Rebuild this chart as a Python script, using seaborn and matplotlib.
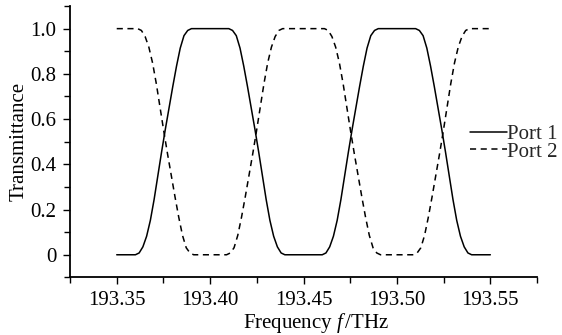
import matplotlib
matplotlib.use("Agg")
import matplotlib.pyplot as plt
import seaborn as sns
import pandas as pd
from matplotlib.ticker import MultipleLocator, FixedLocator, FixedFormatter

# frequencies (THz) and transmittance
port1_freq = [
    193.350,
    193.360, 193.362, 193.364, 193.366, 193.368, 193.370, 193.372, 193.374,
    193.376, 193.378, 193.380, 193.382, 193.384, 193.386, 193.388, 193.390,
    193.410, 193.412, 193.414, 193.416, 193.418, 193.420, 193.422, 193.424,
    193.426, 193.428, 193.430, 193.432, 193.434, 193.436, 193.438, 193.440,
    193.460, 193.462, 193.464, 193.466, 193.468, 193.470, 193.472, 193.474,
    193.476, 193.478, 193.480, 193.482, 193.484, 193.486, 193.488, 193.490,
    193.510, 193.512, 193.514, 193.516, 193.518, 193.520, 193.522, 193.524,
    193.526, 193.528, 193.530, 193.532, 193.534, 193.536, 193.538, 193.540,
    193.550,
]
port1_vals = [
    0.000,
    0.000, 0.008, 0.035, 0.082, 0.152, 0.244, 0.349, 0.454,
    0.554, 0.649, 0.744, 0.834, 0.914, 0.969, 0.992, 1.000,
    1.000, 0.992, 0.969, 0.914, 0.834, 0.744, 0.649, 0.554,
    0.454, 0.349, 0.244, 0.152, 0.082, 0.035, 0.008, 0.000,
    0.000, 0.008, 0.035, 0.082, 0.152, 0.244, 0.349, 0.454,
    0.554, 0.649, 0.744, 0.834, 0.914, 0.969, 0.992, 1.000,
    1.000, 0.992, 0.969, 0.914, 0.834, 0.744, 0.649, 0.554,
    0.454, 0.349, 0.244, 0.152, 0.082, 0.035, 0.008, 0.000,
    0.000,
]

port2_freq = [
    193.3500,
    193.3612, 193.3632, 193.3652, 193.3672, 193.3692, 193.3712, 193.3732, 193.3752,
    193.3772, 193.3792, 193.3812, 193.3832, 193.3852, 193.3872, 193.3892, 193.3912,
    193.4088, 193.4108, 193.4128, 193.4148, 193.4168, 193.4188, 193.4208, 193.4228,
    193.4248, 193.4268, 193.4288, 193.4308, 193.4328, 193.4348, 193.4368, 193.4388,
    193.4612, 193.4632, 193.4652, 193.4672, 193.4692, 193.4712, 193.4732, 193.4752,
    193.4772, 193.4792, 193.4812, 193.4832, 193.4852, 193.4872, 193.4892, 193.4912,
    193.5088, 193.5108, 193.5128, 193.5148, 193.5168, 193.5188, 193.5208, 193.5228,
    193.5248, 193.5268, 193.5288, 193.5308, 193.5328, 193.5348, 193.5368, 193.5388,
    193.5500,
]
port2_vals = [
    1.000,
    1.000, 0.992, 0.965, 0.918, 0.848, 0.756, 0.651, 0.546,
    0.446, 0.351, 0.256, 0.166, 0.086, 0.031, 0.008, 0.000,
    0.000, 0.008, 0.031, 0.086, 0.166, 0.256, 0.351, 0.446,
    0.546, 0.651, 0.756, 0.848, 0.918, 0.965, 0.992, 1.000,
    1.000, 0.992, 0.965, 0.918, 0.848, 0.756, 0.651, 0.546,
    0.446, 0.351, 0.256, 0.166, 0.086, 0.031, 0.008, 0.000,
    0.000, 0.008, 0.031, 0.086, 0.166, 0.256, 0.351, 0.446,
    0.546, 0.651, 0.756, 0.848, 0.918, 0.965, 0.992, 1.000,
    1.000,
]

x_ticks = [193.35, 193.40, 193.45, 193.50, 193.55]
x_labels = ["193.35", "193.40", "193.45", "193.50", "193.55"]
y_ticks = [0, 0.2, 0.4, 0.6, 0.8, 1.0]
y_labels = ["0", "0.2", "0.4", "0.6", "0.8", "1.0"]

df = pd.concat([
    pd.DataFrame({"freq": port1_freq, "T": port1_vals, "Port": "Port 1"}),
    pd.DataFrame({"freq": port2_freq, "T": port2_vals, "Port": "Port 2"}),
])

sns.set_theme(style="ticks")
plt.rcParams["font.family"] = ["Liberation Serif", "DejaVu Serif"]
plt.rcParams["mathtext.fontset"] = "custom"
plt.rcParams["mathtext.rm"] = "Liberation Serif"
plt.rcParams["mathtext.it"] = "Liberation Serif:italic"
fs = 15

fig = plt.figure(figsize=(5.62, 3.35), dpi=100)
ax = fig.add_axes([0.1246, 0.172, 0.831, 0.81])

sns.lineplot(data=df, x="freq", y="T", hue="Port", style="Port",
             palette=["black", "black"], dashes=["", (4, 3)],
             linewidth=1.1, estimator=None, sort=False, ax=ax)

ax.set_xlim(193.325, 193.575)
ax.set_ylim(-0.1, 1.1)
ax.xaxis.set_major_locator(FixedLocator(x_ticks))
ax.xaxis.set_major_formatter(FixedFormatter(x_labels))
ax.xaxis.set_minor_locator(MultipleLocator(0.025))
ax.yaxis.set_major_locator(FixedLocator(y_ticks))
ax.yaxis.set_major_formatter(FixedFormatter(y_labels))
ax.yaxis.set_minor_locator(MultipleLocator(0.1))
ax.tick_params(which="both", direction="out", color="black", width=1,
               labelsize=fs, labelcolor="black")
ax.tick_params(which="major", length=5, pad=5)
ax.tick_params(which="minor", length=4)

for side in ["top", "right"]:
    ax.spines[side].set_visible(False)
for side in ["left", "bottom"]:
    ax.spines[side].set_color("black")
    ax.spines[side].set_linewidth(1.3)

ax.set_xlabel("Frequency $f\\,$/THz", fontsize=fs, color="black")
ax.xaxis.set_label_coords(0.527, -0.125)
ax.set_ylabel("Transmittance", fontsize=fs, color="black")
ax.yaxis.set_label_coords(-0.088, 0.5)

leg = ax.legend(loc="center left", bbox_to_anchor=(0.856, 0.494), frameon=False,
                fontsize=fs, handlelength=1.8, handletextpad=0.0,
                labelspacing=-0.11, borderpad=0, borderaxespad=0)
for line in leg.get_lines():
    line.set_linewidth(1.1)

fig.savefig("out.png", dpi=100)
